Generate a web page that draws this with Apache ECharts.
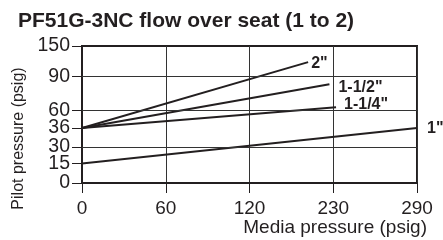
<!DOCTYPE html>
<html>
<head>
<meta charset="utf-8">
<script src="https://cdn.jsdelivr.net/npm/echarts@6/dist/echarts.min.js"></script>
<style>
html, body { margin: 0; padding: 0; background: #fff; }
#chart { width: 443px; height: 240px; }
</style>
</head>
<body>
<div id="chart"></div>
<script>
// tick labels (both axes are drawn schematically, labels are not to scale)
var xTicks = [0, 60, 120, 230, 290];
var yTicks = [0, 15, 30, 36, 60, 90, 150];
var yGrid = [30, 60, 90];

// line sizes and their end points (media psig -> pilot psig)
var sizes = ['2"', '1-1/2"', '1-1/4"', '1"'];
var media2 = [0, 197];
var pilot2 = [36, 118];
var media112 = [0, 225];
var pilot112 = [36, 83];
var media114 = [0, 232];
var pilot114 = [36, 63];
var media1 = [0, 290];
var pilot1 = [15, 36];

// where each y tick sits, as a share of the plot height
var yStops = [0, 0.142, 0.263, 0.401, 0.528, 0.779, 1];

var FONT = '"Liberation Sans", Arial, sans-serif';
var INK = '#231f20';

function piecewise(v, from, to) {
	for (var i = 1; i < from.length; i++) {
		if (v <= from[i] || i == from.length - 1) {
			var t = (v - from[i - 1]) / (from[i] - from[i - 1]);
			return to[i - 1] + t * (to[i] - to[i - 1]);
		}
	}
	return to[0];
}
var xIdx = xTicks.map(function(v, i) { return i; });
function xPos(v) { return piecewise(v, xTicks, xIdx); }
function yPos(v) { return piecewise(v, yTicks, yStops); }

function toPoints(media, pilot) {
	return media.map(function(m, i) { return [xPos(m), yPos(pilot[i])]; });
}

var lines = [
	{ media: media2, pilot: pilot2, dist: 3, off: [0, 1] },
	{ media: media112, pilot: pilot112, dist: 9, off: [0, 3] },
	{ media: media114, pilot: pilot114, dist: 8, off: [0, -3] },
	{ media: media1, pilot: pilot1, dist: 10, off: [0, 1] }
];

var series = lines.map(function(l, i) {
	return {
		name: sizes[i],
		type: 'line',
		data: toPoints(l.media, l.pilot),
		symbol: 'none',
		silent: true,
		lineStyle: { color: INK, width: 2 },
		endLabel: {
			show: true,
			formatter: '{a}',
			distance: l.dist,
			offset: l.off,
			color: INK,
			fontFamily: FONT,
			fontWeight: 'bold',
			fontSize: 16
		},
		z: 3
	};
});

// horizontal grid lines
series.push({
	type: 'line',
	data: [],
	silent: true,
	markLine: {
		silent: true,
		symbol: 'none',
		label: { show: false },
		lineStyle: { color: '#333', width: 1, type: 'solid' },
		data: yGrid.map(function(g) { return { yAxis: yPos(g) }; })
	},
	z: 1
});

var yCustom = yTicks.map(yPos);

function yLabel(v) {
	var best = 0;
	for (var i = 0; i < yCustom.length; i++) {
		if (Math.abs(yCustom[i] - v) < Math.abs(yCustom[best] - v)) best = i;
	}
	return String(yTicks[best]);
}

// labels are packed tight, so they are split over two stacked axes
// (every other one) to keep echarts from thinning the end labels out
var yEven = yCustom.filter(function(v, i) { return i % 2 == 0; });
var yOdd = yCustom.filter(function(v, i) { return i % 2 == 1; });

function yLabelStyle(values) {
	return {
		customValues: values,
		showMinLabel: true,
		showMaxLabel: true,
		margin: 12,
		fontFamily: FONT, fontSize: 19.5, color: INK,
		formatter: yLabel
	};
}

var chart = echarts.init(document.getElementById('chart'));
chart.setOption({
	animation: false,
	title: {
		text: 'PF51G-3NC flow over seat (1 to 2)',
		left: 13,
		top: 6,
		textStyle: { fontFamily: FONT, fontSize: 21, fontWeight: 'bold', color: INK }
	},
	grid: {
		left: 82, right: 26, top: 46, bottom: 57,
		show: true,
		borderColor: INK,
		borderWidth: 2,
		backgroundColor: 'transparent'
	},
	xAxis: {
		type: 'value',
		min: 0,
		max: xTicks.length - 1,
		interval: 1,
		name: 'Media pressure (psig)',
		nameLocation: 'end',
		nameGap: 10,
		nameTextStyle: {
			fontFamily: FONT, fontSize: 19, color: INK,
			align: 'right', verticalAlign: 'top', padding: [35, 0, 0, 0]
		},
		axisLine: { lineStyle: { color: INK, width: 2 } },
		axisTick: { show: true, length: 10, lineStyle: { color: INK, width: 1 } },
		axisLabel: {
			margin: 16,
			fontFamily: FONT, fontSize: 19, color: INK,
			formatter: function(v) { return String(xTicks[Math.round(v)]); }
		},
		splitLine: { show: true, lineStyle: { color: '#333', width: 1 } }
	},
	yAxis: [{
		type: 'value',
		min: 0,
		max: 1,
		name: 'Pilot pressure (psig)',
		nameLocation: 'middle',
		nameGap: 55,
		nameTextStyle: { fontFamily: FONT, fontSize: 16, color: INK, padding: [0, 48, 0, 0] },
		axisLine: { show: true, lineStyle: { color: INK, width: 2 } },
		axisTick: { show: true, length: 10, customValues: yCustom, lineStyle: { color: INK, width: 1 } },
		axisLabel: yLabelStyle(yEven),
		splitLine: { show: false }
	}, {
		type: 'value',
		position: 'left',
		min: 0,
		max: 1,
		axisLine: { show: false },
		axisTick: { show: false },
		axisLabel: yLabelStyle(yOdd),
		splitLine: { show: false }
	}],
	series: series
});
</script>
</body>
</html>
